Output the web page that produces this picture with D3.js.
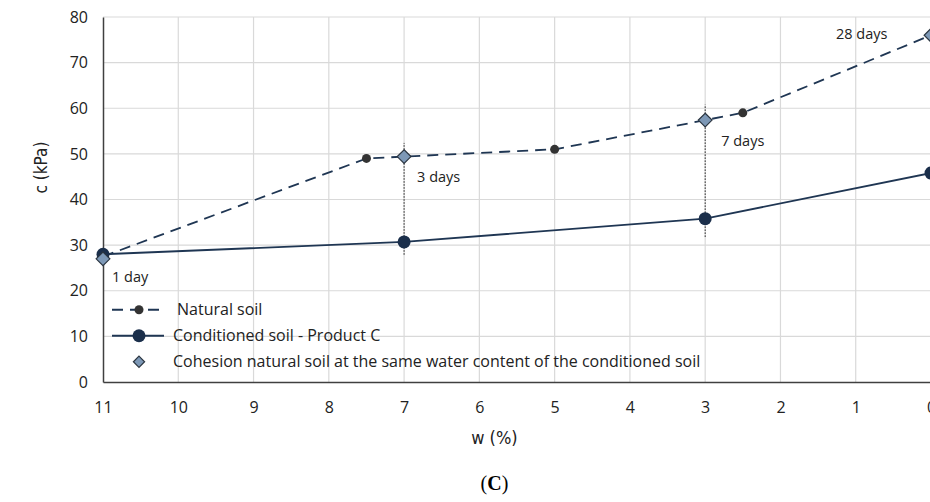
<script src="https://d3js.org/d3.v7.min.js"></script>
<style>
  body { margin: 0; background: #fff; }
  text { font-family: "Open Sans", Arial, sans-serif; }
</style>
<div id="chart"></div>
<script>
    // data
    var natW = [11, 7.5, 5, 2.5, 0];
    var natC = [27.5, 49, 51, 59, 76];
    var condW = [11, 7, 3, 0];
    var condC = [28, 30.7, 35.8, 45.8];
    var cohW = [11, 7, 3, 0];
    var cohC = [27, 49.4, 57.4, 76];
    var dayLabels = ["1 day", "3 days", "7 days", "28 days"];
    var xTicks = [11, 10, 9, 8, 7, 6, 5, 4, 3, 2, 1, 0];
    var yTicks = [0, 10, 20, 30, 40, 50, 60, 70, 80];
    var legendNames = ["Natural soil", "Conditioned soil - Product C",
        "Cohesion natural soil at the same water content of the conditioned soil"];

    var W = 930, H = 502;
    var margin = {top: 17, right: -1, bottom: 120, left: 103};
    var width = W - margin.left - margin.right,
        height = H - margin.top - margin.bottom;

    var lineCol = "#1f3653", dotCol = "#333", diaFill = "#7d98b6";

    var svg = d3.select("#chart").append("svg")
        .attr("width", W).attr("height", H)
        .append("g")
        .attr("transform", "translate(" + margin.left + "," + margin.top + ")");

    var x = d3.scaleLinear().domain([11, 0]).range([0, width]);
    var y = d3.scaleLinear().domain([0, 80]).range([height, 0]);

    // grid
    svg.append("g").selectAll("line").data(xTicks.slice(1)).enter().append("line")
        .attr("x1", d => x(d)).attr("x2", d => x(d))
        .attr("y1", 0).attr("y2", height)
        .attr("stroke", "#d9d9d9").attr("stroke-width", 1.2);
    svg.append("g").selectAll("line").data(yTicks.slice(1)).enter().append("line")
        .attr("x1", 0).attr("x2", width)
        .attr("y1", d => y(d)).attr("y2", d => y(d))
        .attr("stroke", "#d9d9d9").attr("stroke-width", 1.2);

    // axes
    var xAxis = svg.append("g")
        .attr("transform", "translate(0," + height + ")")
        .call(d3.axisBottom(x).tickValues(xTicks).tickSize(0).tickPadding(20));
    var yAxis = svg.append("g")
        .call(d3.axisLeft(y).tickValues(yTicks).tickSize(0).tickPadding(15));
    [xAxis, yAxis].forEach(function (a) {
        a.select(".domain").attr("stroke", "#404040").attr("stroke-width", 1.5);
        a.selectAll("text").attr("font-size", 16).attr("fill", "#222")
            .style("font-family", "Open Sans, Arial, sans-serif");
    });

    // dotted verticals at the matched water contents
    var guides = [[7, 27.9, 52.4], [3, 31.8, 60.8]];
    svg.append("g").selectAll("line").data(guides).enter().append("line")
        .attr("x1", d => x(d[0])).attr("x2", d => x(d[0]))
        .attr("y1", d => y(d[1])).attr("y2", d => y(d[2]))
        .attr("stroke", "#222").attr("stroke-width", 1)
        .attr("stroke-dasharray", "1.5,1.5");

    var line = d3.line().x(d => x(d[0])).y(d => y(d[1]));
    var nat = natW.map((w, i) => [w, natC[i]]);
    var cond = condW.map((w, i) => [w, condC[i]]);
    var coh = cohW.map((w, i) => [w, cohC[i]]);

    svg.append("path").datum(nat).attr("d", line)
        .attr("fill", "none").attr("stroke", lineCol).attr("stroke-width", 1.8)
        .attr("stroke-dasharray", "11,7");
    svg.append("path").datum(cond).attr("d", line)
        .attr("fill", "none").attr("stroke", lineCol).attr("stroke-width", 1.8);

    svg.append("g").selectAll("circle").data(nat).enter().append("circle")
        .attr("cx", d => x(d[0])).attr("cy", d => y(d[1])).attr("r", 4.5)
        .attr("fill", dotCol);
    svg.append("g").selectAll("circle").data(cond).enter().append("circle")
        .attr("cx", d => x(d[0])).attr("cy", d => y(d[1])).attr("r", 6.5)
        .attr("fill", "#1b2f4b");

    var diamond = d3.symbol().type(d3.symbolDiamond2).size(120);
    svg.append("g").selectAll("path").data(coh).enter().append("path")
        .attr("d", diamond)
        .attr("transform", d => "translate(" + x(d[0]) + "," + y(d[1]) + ")")
        .attr("fill", diaFill).attr("stroke", "#2b3540").attr("stroke-width", 1.2);

    // day labels (offsets from each diamond)
    var dayPos = [[9, 23], [13, 25], [16, 26], [-95, 4]];
    svg.append("g").selectAll("text").data(coh).enter().append("text")
        .attr("x", (d, i) => x(d[0]) + dayPos[i][0])
        .attr("y", (d, i) => y(d[1]) + dayPos[i][1])
        .attr("font-size", 14.5).attr("fill", "#222")
        .text((d, i) => dayLabels[i]);

    // legend
    var lg = svg.append("g").attr("transform", "translate(9," + (y(20) + 19) + ")");
    legendNames.forEach(function (name, i) {
        var g = lg.append("g").attr("transform", "translate(0," + (i * 26) + ")");
        if (i < 2) {
            g.append("line").attr("x1", 0).attr("x2", 52).attr("y1", 0).attr("y2", 0)
                .attr("stroke", lineCol).attr("stroke-width", 1.8)
                .attr("stroke-dasharray", i === 0 ? "11,7" : null);
        }
        if (i === 0) g.append("circle").attr("cx", 27).attr("r", 4.5).attr("fill", dotCol);
        if (i === 1) g.append("circle").attr("cx", 27).attr("r", 6.5).attr("fill", "#1b2f4b");
        if (i === 2) g.append("path").attr("d", d3.symbol().type(d3.symbolDiamond2).size(80))
            .attr("transform", "translate(27,0)")
            .attr("fill", diaFill).attr("stroke", "#2b3540").attr("stroke-width", 1.2);
        g.append("text").attr("x", i === 0 ? 65 : 61).attr("y", 5.5)
            .attr("font-size", 16).attr("fill", "#222").text(name);
    });

    // axis titles
    svg.append("text")
        .attr("transform", "translate(" + (-56) + "," + y(47) + ") rotate(-90)")
        .attr("text-anchor", "middle").attr("font-size", 17).attr("fill", "#222")
        .style("font-family", "DejaVu Sans Condensed, sans-serif")
        .text("c (kPa)");
    svg.append("text")
        .attr("x", x(5.8)).attr("y", height + 62)
        .attr("text-anchor", "middle").attr("font-size", 18).attr("fill", "#222")
        .style("font-family", "DejaVu Sans Condensed, sans-serif")
        .text("w (%)");
    svg.append("text")
        .attr("x", x(5.8)).attr("y", height + 108)
        .attr("text-anchor", "middle").attr("font-size", 20).attr("fill", "#000")
        .style("font-family", "Liberation Serif, serif")
        .html("(<tspan font-weight='bold'>C</tspan>)");
</script>
